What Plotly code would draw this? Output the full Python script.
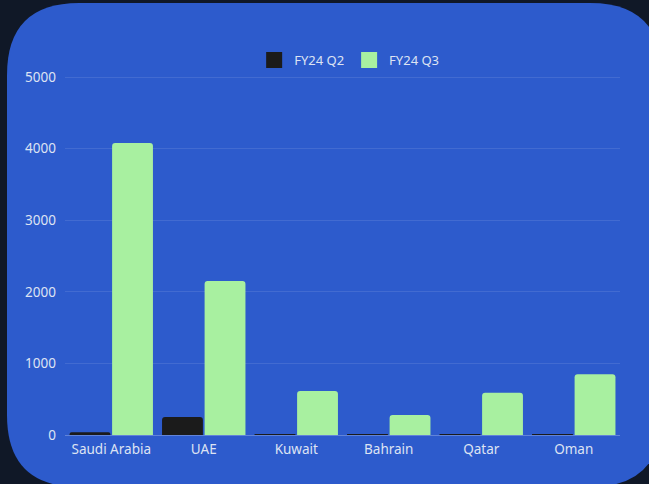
import plotly.graph_objects as go

countries = ["Saudi Arabia", "UAE", "Kuwait", "Bahrain", "Qatar", "Oman"]
q2_values = [40, 250, 5, 3, 10, 3]
q3_values = [4080, 2150, 615, 280, 590, 850]
series_names = ["FY24 Q2", "FY24 Q3"]
colors = ["#1b1b1b", "#a8f0a0"]
y_ticks = [0, 1000, 2000, 3000, 4000, 5000]

W, H = 649, 484
L, R, T, B = 65, 29, 75, 49
pw, ph = W - L - R, H - T - B

def px(x):
    return (x - L) / pw

def py(y):
    return (H - B - y) / ph

x0, x1, y0, y1, r = 7, 662, 3, 487, 72
path = (
    f"M {px(x0 + r)},{py(y0)} L {px(x1 - r)},{py(y0)} "
    f"Q {px(x1)},{py(y0)} {px(x1)},{py(y0 + r)} "
    f"L {px(x1)},{py(y1 - r)} Q {px(x1)},{py(y1)} {px(x1 - r)},{py(y1)} "
    f"L {px(x0 + r)},{py(y1)} Q {px(x0)},{py(y1)} {px(x0)},{py(y1 - r)} "
    f"L {px(x0)},{py(y0 + r)} Q {px(x0)},{py(y0)} {px(x0 + r)},{py(y0)} Z"
)

fig = go.Figure()
for name, vals, col in zip(series_names, [q2_values, q3_values], colors):
    fig.add_trace(go.Bar(x=countries, y=vals, name=name, marker_color=col,
                         marker_line_width=0, showlegend=False, legendgroup=name))
for name, col in zip(series_names, colors):
    fig.add_trace(go.Scatter(x=[None], y=[None], mode="markers", name=name,
                             legendgroup=name,
                             marker=dict(symbol="square", size=18, color=col,
                                         line=dict(width=0))))

fig.update_layout(
    width=W, height=H,
    margin=dict(l=L, r=R, t=T, b=B, pad=0),
    paper_bgcolor="#101827",
    plot_bgcolor="rgba(0,0,0,0)",
    font=dict(family="Noto Sans, Open Sans, sans-serif", size=13, color="#dde3f3"),
    barmode="group",
    bargap=0.08,
    bargroupgap=0.04,
    barcornerradius=3,
    shapes=[dict(type="path", path=path, xref="paper", yref="paper",
                 fillcolor="#2d5bcc", line=dict(width=0), layer="below")],
    legend=dict(orientation="h", x=0.512, xanchor="center", y=py(60), yanchor="middle",
                font=dict(size=13, color="#dde3f3"), itemsizing="trace",
                itemwidth=30, tracegroupgap=0,
                bgcolor="rgba(0,0,0,0)"),
    xaxis=dict(showgrid=False, showline=False, zeroline=False, ticks="",
               tickfont=dict(size=13.5), ticklabelstandoff=4),
    yaxis=dict(range=[0, 5028], tickvals=y_ticks,
               showgrid=True,
               gridcolor="rgba(255,255,255,0.1)", gridwidth=1,
               zeroline=True, zerolinecolor="rgba(255,255,255,0.25)", zerolinewidth=1,
               showline=False, ticks="", tickfont=dict(size=13.5), ticklabelstandoff=8),
)

fig.write_html("out.html")
